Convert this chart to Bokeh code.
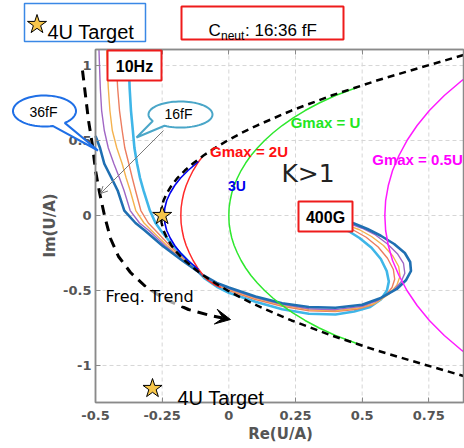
import numpy as np
from bokeh.plotting import figure
from bokeh.models import Range1d, LinearAxis, Label, PolyAnnotation, Arrow, VeeHead, OpenHead
from bokeh.embed import file_html
from bokeh.resources import INLINE

# ---------------- data ----------------
x_ticks = [-0.5, -0.25, 0, 0.25, 0.5, 0.75]
x_tick_labels = ["-0.5", "-0.25", "0", "0.25", "0.5", "0.75"]
y_ticks = [-1, -0.5, 0, 0.5, 1]
y_tick_labels = ["-1", "-0.5", "0", "0.5", "1"]

# K = 1 stability boundary
k1_re = [0.88, 0.725, 0.555, 0.385, 0.235, 0.105, 0.047, -0.005, -0.052, -0.095, -0.132,
         -0.165, -0.193, -0.215, -0.232, -0.245, -0.252, -0.255, -0.252, -0.245, -0.232, -0.215,
         -0.193, -0.165, -0.132, -0.095, -0.052, -0.005, 0.047, 0.105, 0.235, 0.385, 0.555,
         0.725, 0.88]
k1_im = [1.07, 0.99, 0.9, 0.8, 0.7, 0.6, 0.55, 0.5, 0.45, 0.4, 0.35, 0.3, 0.25, 0.2, 0.15,
         0.1, 0.05, 0.0, -0.05, -0.1, -0.15, -0.2, -0.25, -0.3, -0.35, -0.4, -0.45, -0.5, -0.55,
         -0.6, -0.7, -0.8, -0.9, -0.99, -1.07]

# constant maximum-gain contours
gmax_2u_re = [-0.1, -0.117, -0.134, -0.148, -0.16, -0.169, -0.175, -0.179, -0.18, -0.179,
              -0.175, -0.169, -0.16, -0.148, -0.134, -0.117, -0.1, -0.08, -0.055, -0.03]
gmax_2u_im = [0.39, 0.35, 0.3, 0.25, 0.2, 0.15, 0.1, 0.05, 0.0, -0.05, -0.1, -0.15, -0.2,
              -0.25, -0.3, -0.35, -0.39, -0.43, -0.46, -0.48]

gmax_1u_re = [0.49, 0.4, 0.339, 0.286, 0.24, 0.2, 0.165, 0.134, 0.107, 0.083, 0.063, 0.046,
              0.032, 0.02, 0.011, 0.005, 0.001, 0.0, 0.001, 0.005, 0.011, 0.02, 0.032, 0.046,
              0.063, 0.083, 0.107, 0.134, 0.165, 0.2, 0.24, 0.286, 0.339, 0.4, 0.49]
gmax_1u_im = [0.86, 0.8, 0.75, 0.7, 0.65, 0.6, 0.55, 0.5, 0.45, 0.4, 0.35, 0.3, 0.25, 0.2,
              0.15, 0.1, 0.05, 0.0, -0.05, -0.1, -0.15, -0.2, -0.25, -0.3, -0.35, -0.4, -0.45,
              -0.5, -0.55, -0.6, -0.65, -0.7, -0.75, -0.8, -0.86]

gmax_05u_re = [0.88, 0.874, 0.808, 0.752, 0.706, 0.668, 0.638, 0.614, 0.598, 0.588, 0.585,
               0.588, 0.598, 0.614, 0.638, 0.668, 0.706, 0.752, 0.808, 0.874, 0.88]
gmax_05u_im = [0.908, 0.9, 0.8, 0.7, 0.6, 0.5, 0.4, 0.3, 0.2, 0.1, 0.0, -0.1, -0.2, -0.3,
               -0.4, -0.5, -0.6, -0.7, -0.8, -0.9, -0.908]

gmax_3u_re = [-0.114, -0.153, -0.181, -0.203, -0.22, -0.233, -0.24, -0.243, -0.24, -0.233,
              -0.22, -0.203, -0.181, -0.153, -0.114]
gmax_3u_im = [0.36, 0.3, 0.25, 0.2, 0.15, 0.1, 0.05, 0.0, -0.05, -0.1, -0.15, -0.2, -0.25,
              -0.3, -0.36]

# frequency sweeps, 10 Hz -> 400 GHz, for C_neut = 16, 21, 26, 31, 36 fF
c16_re = [-0.376, -0.375, -0.372, -0.367, -0.36, -0.354, -0.344, -0.333, -0.32, -0.296, -0.275,
          -0.255, -0.21, -0.155, -0.09, -0.045, 0.0, 0.1, 0.2, 0.3, 0.4, 0.47, 0.53, 0.57,
          0.593, 0.6, 0.592, 0.57, 0.535, 0.49, 0.45, 0.415]
c16_im = [1.107, 1.0, 0.85, 0.7, 0.567, 0.45, 0.345, 0.25, 0.167, 0.033, -0.05, -0.1, -0.2,
          -0.3, -0.42, -0.475, -0.515, -0.575, -0.625, -0.655, -0.66, -0.64, -0.61, -0.56,
          -0.5, -0.44, -0.37, -0.29, -0.215, -0.15, -0.105, -0.078]

c21_re = [-0.423, -0.421, -0.417, -0.41, -0.4, -0.39, -0.375, -0.362, -0.35, -0.33, -0.302,
          -0.275, -0.222, -0.163, -0.09, -0.045, 0.0, 0.1, 0.2, 0.3, 0.4, 0.48, 0.54, 0.585,
          0.612, 0.622, 0.617, 0.595, 0.56, 0.515, 0.47, 0.43]
c21_im = [1.107, 1.0, 0.85, 0.7, 0.567, 0.45, 0.345, 0.25, 0.167, 0.033, -0.05, -0.1, -0.2,
          -0.3, -0.415, -0.465, -0.5, -0.56, -0.605, -0.635, -0.64, -0.625, -0.595, -0.54,
          -0.48, -0.425, -0.36, -0.285, -0.21, -0.145, -0.1, -0.07]

c26_re = [-0.458, -0.456, -0.452, -0.446, -0.437, -0.42, -0.4, -0.385, -0.37, -0.349, -0.318,
          -0.29, -0.232, -0.168, -0.093, -0.045, 0.0, 0.1, 0.2, 0.3, 0.4, 0.49, 0.55, 0.6,
          0.63, 0.642, 0.637, 0.615, 0.58, 0.535, 0.49, 0.445]
c26_im = [1.107, 1.0, 0.85, 0.7, 0.567, 0.45, 0.345, 0.25, 0.167, 0.033, -0.05, -0.1, -0.2,
          -0.3, -0.41, -0.46, -0.493, -0.553, -0.598, -0.628, -0.635, -0.615, -0.585, -0.525,
          -0.465, -0.405, -0.34, -0.27, -0.2, -0.14, -0.095, -0.066]

c31_re = [-0.487, -0.485, -0.482, -0.477, -0.467, -0.452, -0.431, -0.41, -0.393, -0.37, -0.335,
          -0.3, -0.24, -0.172, -0.095, -0.045, 0.0, 0.1, 0.2, 0.3, 0.4, 0.5, 0.56, 0.615,
          0.645, 0.66, 0.655, 0.632, 0.595, 0.55, 0.5, 0.457]
c31_im = [1.107, 1.0, 0.85, 0.7, 0.567, 0.45, 0.345, 0.25, 0.167, 0.033, -0.05, -0.1, -0.2,
          -0.3, -0.405, -0.455, -0.487, -0.547, -0.592, -0.622, -0.628, -0.605, -0.565, -0.505,
          -0.445, -0.385, -0.32, -0.255, -0.19, -0.13, -0.085, -0.057]

c36_re = [-0.5, -0.483, -0.467, -0.44, -0.417, -0.392, -0.35, -0.315, -0.25, -0.175,
          -0.095, -0.045, 0.0, 0.1, 0.2, 0.3, 0.4, 0.5, 0.57, 0.63, 0.665, 0.683, 0.68, 0.66,
          0.62, 0.57, 0.52, 0.465]
c36_im = [0.53, 0.45, 0.345, 0.25, 0.167, 0.033, -0.05, -0.1, -0.2, -0.3, -0.4, -0.45,
          -0.48, -0.54, -0.585, -0.61, -0.615, -0.595, -0.55, -0.49, -0.43, -0.37, -0.31,
          -0.25, -0.19, -0.135, -0.09, -0.05]

# 4U design target
target_re = [-0.25]
target_im = [0.0]

# ---------------- layout ----------------
W, H = 464, 448
FL, FT, FW, FH = 95, 49, 368, 353          # axes box in canvas pixels
X0, X1 = -0.5, 0.88
Y0, Y1 = -1.247, 1.107
AX = "#8a8a8a"
TICK_TXT = "#555555"
STAR = "#F7C64A"


def cx(px):
    """canvas pixel column -> data x"""
    return X0 + (px - FL) * (X1 - X0) / FW


def cy(py):
    """canvas pixel row -> data y"""
    return Y1 - (py - FT) * (Y1 - Y0) / FH


# the frame spans the whole canvas so that callouts and header boxes can sit
# anywhere; the axes are pinned to the edges of the data box
p = figure(width=W, height=H, x_range=Range1d(cx(0), cx(W)), y_range=Range1d(cy(H), cy(0)),
           output_backend="svg", toolbar_location=None,
           x_axis_type=None, y_axis_type=None,
           min_border=0, min_border_left=0, min_border_right=0,
           min_border_top=0, min_border_bottom=0)
p.outline_line_color = None
p.background_fill_color = "white"
p.border_fill_color = "white"


def style_axis(ax):
    ax.axis_line_color = AX
    ax.axis_line_width = 1.5
    ax.major_tick_line_color = AX
    ax.major_tick_line_width = 1
    ax.major_tick_in = 5
    ax.major_tick_out = 0
    ax.minor_tick_line_color = None
    ax.major_label_text_font = "DejaVu Sans"
    ax.major_label_text_font_style = "bold"
    ax.major_label_text_font_size = "13px"
    ax.major_label_text_color = TICK_TXT


xax = LinearAxis(fixed_location=Y0, bounds=(X0, X1), ticker=x_ticks,
                 major_label_overrides=dict(zip(x_ticks, x_tick_labels)))
style_axis(xax)
xax.major_label_standoff = 8
p.add_layout(xax, "below")

yax = LinearAxis(fixed_location=X0, bounds=(Y0, Y1), ticker=y_ticks,
                 major_label_overrides=dict(zip(y_ticks, y_tick_labels)))
style_axis(yax)
yax.major_label_standoff = 4
p.add_layout(yax, "left")

tax = LinearAxis(fixed_location=Y1, bounds=(X0, X1), ticker=x_ticks,
                 major_label_overrides={t: "" for t in x_ticks})
style_axis(tax)
p.add_layout(tax, "above")

# dashed grid inside the data box
p.segment(x0=x_ticks, y0=[Y0] * len(x_ticks), x1=x_ticks, y1=[Y1] * len(x_ticks),
          line_color="#d6d6d6", line_width=1, line_dash="4 3")
p.segment(x0=[X0] * len(y_ticks), y0=y_ticks, x1=[X1] * len(y_ticks), y1=y_ticks,
          line_color="#d6d6d6", line_width=1, line_dash="4 3")

# frequency sweeps
sweeps = [
    (c16_re, c16_im, "#3fb6e8", 2.6),
    (c21_re, c21_im, "#ec7d60", 1.4),
    (c26_re, c26_im, "#f4b24e", 1.4),
    (c31_re, c31_im, "#a066c4", 1.4),
    (c36_re, c36_im, "#1f6fb2", 2.6),
]
for re_, im_, col, w in sweeps:
    p.line(re_, im_, line_color=col, line_width=w, line_join="round")

# gain contours
p.line(gmax_2u_re, gmax_2u_im, line_color="#ff2a2a", line_width=1.5)
p.line(gmax_1u_re, gmax_1u_im, line_color="#2ee82e", line_width=1.5)
p.line(gmax_05u_re, gmax_05u_im, line_color="#ff1aff", line_width=1.5)
p.line(gmax_3u_re, gmax_3u_im, line_color="#0000ee", line_width=1.6)

# stability boundary
p.line(k1_re, k1_im, line_color="black", line_width=2.5, line_dash="7 5")

# box around the data area
p.quad(left=[X0], right=[X1], bottom=[Y0], top=[Y1], fill_color=None,
       line_color=AX, line_width=1.5)

# target marker
p.scatter(target_re, target_im, marker="star", size=20, fill_color=STAR,
          line_color="black", line_width=1)

# curved "frequency trend" arrow
trend_px = [(82, 70), (85, 95), (88, 120), (92, 145), (95, 170), (99, 192), (104, 215),
            (110, 238), (118, 256), (130, 272), (145, 286), (165, 299), (188, 309),
            (210, 315), (222, 317.5)]
p.line([cx(a) for a, _ in trend_px], [cy(b) for _, b in trend_px],
       line_color="black", line_width=3, line_dash="10 7")
p.add_layout(Arrow(x_start=cx(212), y_start=cy(315.5), x_end=cx(230), y_end=cy(319),
                   line_alpha=0,
                   end=VeeHead(size=15, fill_color="black", line_color="black")))


def label(px, py, text, size, color="black", style="normal", font="Liberation Sans",
          align="center", baseline="middle", **kw):
    p.add_layout(Label(x=cx(px), y=cy(py), text=text, text_font=font,
                       text_font_size=f"{size}px", text_font_style=style,
                       text_color=color, text_align=align, text_baseline=baseline, **kw))


def rect(l, t, r, b, color, width=2.0, fill_alpha=1.0):
    p.add_layout(PolyAnnotation(xs=[cx(l), cx(r), cx(r), cx(l)],
                                ys=[cy(t), cy(t), cy(b), cy(b)],
                                fill_color="white", fill_alpha=fill_alpha,
                                line_color=color, line_alpha=1.0, line_width=width))


def bubble(x0, y0, a, b, t1, t2, tip, color):
    ang = np.radians(np.linspace(t2, t1 + 360, 72))
    xs = list(x0 + a * np.cos(ang)) + [tip[0]]
    ys = list(y0 + b * np.sin(ang)) + [tip[1]]
    p.add_layout(PolyAnnotation(xs=[cx(v) for v in xs], ys=[cy(v) for v in ys],
                                fill_color="white", fill_alpha=1.0,
                                line_color=color, line_alpha=1.0, line_width=2))


# axis titles
label(49, 225, "Im(U/A)", 15, color=TICK_TXT, style="bold", font="DejaVu Sans",
      angle=np.pi / 2)
label(280, 433, "Re(U/A)", 15, color=TICK_TXT, style="bold", font="DejaVu Sans")

# pointer from the 16 fF callout
p.add_layout(Arrow(x_start=cx(163), y_start=cy(130), x_end=cx(100), y_end=cy(193),
                   line_color="#7a7a7a", line_width=1,
                   end=OpenHead(size=7, line_color="#7a7a7a", line_width=1)))

# callouts
bubble(44, 110.5, 31.5, 15.5, 50, 75, (97.5, 150), "#1f6fe6")
label(43, 111, "36fF", 14)
bubble(180, 114, 32, 13, 120, 150, (136, 137), "#4aa6c8")
label(178, 113, "16fF", 14)

# boxed frequency endpoints
rect(107, 50, 161, 80, "#ee1b1b")
label(134, 65.5, "10Hz", 16, style="bold")
rect(298, 201, 352, 231, "#ee1b1b")
label(325, 216.5, "400G", 16, style="bold")

# contour names
label(248.5, 150.5, "Gmax = 2U", 15, color="#ff1111", style="bold")
label(325, 122, "Gmax = U", 15, color="#22e622", style="bold")
label(417, 158.5, "Gmax = 0.5U", 15, color="#ff00ff", style="bold")
label(236.5, 185.5, "3U", 14, color="#0000ee", style="bold")
label(307.5, 173, "K>1", 25, color="#222222", font="DejaVu Sans")

label(105, 296, "Freq. Trend", 16, font="DejaVu Sans", align="left", baseline="alphabetic",
      background_fill_color="white", background_fill_alpha=0.65)

# in-plot legend entry
p.scatter([cx(152)], [cy(388)], marker="star", size=20, fill_color=STAR,
          line_color="black", line_width=1)
label(177, 397, "4U Target", 20, align="left", baseline="alphabetic")

# header boxes
rect(24, 3, 145, 41, "#3a88e6", width=1.5, fill_alpha=0.0)
p.scatter([cx(36.5)], [cy(24)], marker="star", size=20, fill_color=STAR,
          line_color="black", line_width=1)
label(47, 31, "4U Target", 20, align="left", baseline="alphabetic")

rect(181, 6, 343, 39, "#ee1b1b", fill_alpha=0.0)
label(208, 30, "C", 17, align="left", baseline="alphabetic")
label(220.5, 35, "neut", 12, align="left", baseline="alphabetic")
label(244.5, 30, ": 16:36 fF", 17, align="left", baseline="alphabetic")

open("out.html", "w").write(file_html(p, INLINE))
